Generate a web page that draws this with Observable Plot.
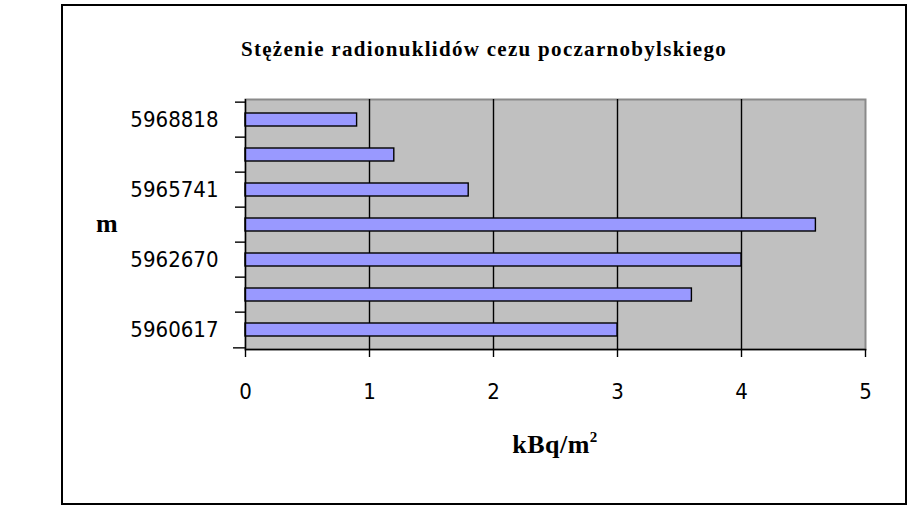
<!DOCTYPE html>
<html>
<head>
<meta charset="utf-8">
<script src="https://cdn.jsdelivr.net/npm/d3@7"></script>
<script src="https://cdn.jsdelivr.net/npm/@observablehq/plot@0.6"></script>
<style>
  html, body { margin: 0; padding: 0; background: #fff; }
  #wrap { position: relative; width: 911px; height: 508px; overflow: hidden; }
  #wrap svg { position: absolute; left: 0; top: 0; }
  .frame { position: absolute; left: 61px; top: 4px; width: 842px; height: 497px; border: 2px solid #000; box-sizing: content-box; pointer-events: none; }
  .t { position: absolute; font-family: "Liberation Serif", "Times New Roman", serif; font-weight: bold; color: #000; white-space: nowrap; }
  #title { left: 61px; width: 846px; top: 37px; text-align: center; font-size: 21px; letter-spacing: 1.3px; }
  #ylab { left: 96px; top: 209px; font-size: 26px; }
  #xlab { left: 245px; width: 620px; top: 429px; text-align: center; font-size: 26px; letter-spacing: 0.5px; }
  #xlab sup { font-size: 15px; vertical-align: 11px; }
</style>
</head>
<body>
<div id="wrap">
  <div class="frame"></div>
  <div class="t" id="title">Stężenie radionuklidów cezu poczarnobylskiego</div>
  <div class="t" id="ylab">m</div>
  <div class="t" id="xlab">kBq/m<sup>2</sup></div>
</div>
<script>
// categories from top to bottom (only every other label is shown in the original)
const categoryLabels = ["5968818", "", "5965741", "", "5962670", "", "5960617"];
const values = [0.9, 1.2, 1.8, 4.6, 4.0, 3.6, 3.0];
const xTicks = [0, 1, 2, 3, 4, 5];
const gridValues = [1, 2, 3, 4];

const data = values.map((v, i) => ({i, v}));
const idx = d3.range(categoryLabels.length);

const marginTop = 99, marginBottom = 159, marginLeft = 245, marginRight = 46;
const H = 508;
const plotH = H - marginTop - marginBottom;
const step = plotH / idx.length;
const tickFont = "'DejaVu Sans Condensed', 'DejaVu Sans', sans-serif";

const chart = Plot.plot({
  width: 911,
  height: H,
  marginTop, marginBottom, marginLeft, marginRight,
  style: {background: "transparent", overflow: "visible"},
  x: {domain: [0, 5], ticks: xTicks, label: null},
  y: {domain: idx, padding: 0.64, paddingOuter: 0.32, label: null},
  marks: [
    Plot.frame({fill: "#c0c0c0", stroke: "#8a8a8a", strokeWidth: 2}),
    Plot.ruleX(gridValues, {stroke: "#000", strokeWidth: 1.4}),
    Plot.barX(data, {y: "i", x: "v", fill: "#9999ff", stroke: "#000", strokeWidth: 1.4}),
    Plot.ruleX([0], {stroke: "#000", strokeWidth: 1.4}),
    Plot.axisX({ticks: xTicks, tickFormat: d3.format("d"), tickSize: 8, tickPadding: 26, fontSize: 22, fontFamily: tickFont, stroke: "#000", strokeWidth: 1.4, label: null, color: "#000"}),
    Plot.axisY({tickSize: 0, tickPadding: 27, tickFormat: i => categoryLabels[i], fontSize: 22, fontFamily: tickFont, label: null, color: "#000"}),
    Plot.axisY({tickSize: 10, tickFormat: () => "", dy: -step / 2, stroke: "#000", strokeWidth: 1.4, label: null}),
    Plot.axisY([idx[idx.length - 1]], {tickSize: 12, tickFormat: () => "", dy: step / 2, stroke: "#000", strokeWidth: 1.4, label: null}),
    Plot.frame({anchor: "bottom", stroke: "#000", strokeWidth: 1.4})
  ]
});
document.getElementById("wrap").prepend(chart);
</script>
</body>
</html>
